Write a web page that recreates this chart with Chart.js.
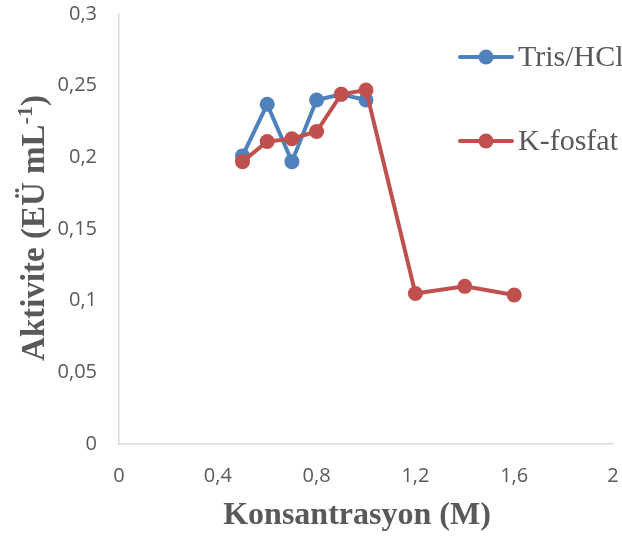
<!DOCTYPE html>
<html>
<head>
<meta charset="utf-8">
<script src="https://cdn.jsdelivr.net/npm/chart.js@4/dist/chart.umd.min.js"></script>
<style>
  html, body { margin: 0; padding: 0; background: #fff; }
  #wrap { width: 622px; height: 537px; }
</style>
</head>
<body>
<div id="wrap"><canvas id="chart" width="622" height="537"></canvas></div>
<script>
// data
const seriesNames = ['Tris/HCl', 'K-fosfat'];
const trisX = [0.5, 0.6, 0.7, 0.8, 0.9, 1.0];
const trisY = [0.201, 0.237, 0.197, 0.240, 0.244, 0.240];
const kX = [0.5, 0.6, 0.7, 0.8, 0.9, 1.0, 1.2, 1.4, 1.6];
const kY = [0.197, 0.211, 0.213, 0.218, 0.244, 0.247, 0.105, 0.110, 0.104];
const xTickLabels = ['0', '0,4', '0,8', '1,2', '1,6', '2'];
const yTickLabels = ['0', '0,05', '0,1', '0,15', '0,2', '0,25', '0,3'];

const blue = '#4F81BD';
const red = '#C0504D';
const grey = '#595959';

function pts(xs, ys) {
  return xs.map((x, i) => ({ x: x, y: ys[i] }));
}

// axis titles (y one has a superscript) and the legend drawn inside the plot
const extras = {
  id: 'extras',
  afterDatasetsDraw(chart) {
    const ctx = chart.ctx;
    ctx.save();
    ctx.fillStyle = grey;

    // x title
    ctx.font = 'bold 32px "Liberation Serif"';
    ctx.textAlign = 'center';
    ctx.textBaseline = 'alphabetic';
    ctx.fillText('Konsantrasyon (M)', 357, 524);

    // y title, rotated
    ctx.translate(44, 228);
    ctx.rotate(-Math.PI / 2);
    const main = 'Aktivite (EÜ mL';
    const sup = '-1';
    const end = ')';
    ctx.font = 'bold 33px "Liberation Serif"';
    const w1 = ctx.measureText(main).width;
    const w3 = ctx.measureText(end).width;
    ctx.font = 'bold 22px "Liberation Serif"';
    const w2 = ctx.measureText(sup).width;
    let x0 = -(w1 + w2 + w3) / 2;
    ctx.textAlign = 'left';
    ctx.font = 'bold 33px "Liberation Serif"';
    ctx.fillText(main, x0, 0);
    ctx.font = 'bold 22px "Liberation Serif"';
    ctx.fillText(sup, x0 + w1, -12);
    ctx.font = 'bold 33px "Liberation Serif"';
    ctx.fillText(end, x0 + w1 + w2, 0);
    ctx.restore();

    // legend
    ctx.save();
    const rows = [57, 141];
    chart.data.datasets.forEach((ds, i) => {
      const y = rows[i];
      ctx.strokeStyle = ds.borderColor;
      ctx.lineWidth = 4;
      ctx.lineCap = 'round';
      ctx.beginPath();
      ctx.moveTo(460, y);
      ctx.lineTo(512, y);
      ctx.stroke();
      ctx.fillStyle = ds.backgroundColor;
      ctx.beginPath();
      ctx.arc(486, y, 7.5, 0, Math.PI * 2);
      ctx.fill();
      ctx.fillStyle = grey;
      ctx.font = '30px "Liberation Serif"';
      ctx.textAlign = 'left';
      ctx.textBaseline = 'middle';
      ctx.fillText(ds.label, 518, y + 1);
    });
    ctx.restore();
  }
};

new Chart(document.getElementById('chart'), {
  type: 'scatter',
  data: {
    datasets: [
      {
        label: seriesNames[0],
        data: pts(trisX, trisY),
        showLine: true,
        borderColor: blue,
        backgroundColor: blue,
        borderWidth: 4,
        pointRadius: 7.5,
        pointBorderWidth: 0,
        order: 1
      },
      {
        label: seriesNames[1],
        data: pts(kX, kY),
        showLine: true,
        borderColor: red,
        backgroundColor: red,
        borderWidth: 4,
        pointRadius: 7.5,
        pointBorderWidth: 0,
        order: 0
      }
    ]
  },
  options: {
    responsive: false,
    animation: false,
    devicePixelRatio: 1,
    layout: { padding: { left: 0, right: 9, top: 14, bottom: 0 } },
    plugins: {
      legend: { display: false },
      tooltip: { enabled: false }
    },
    scales: {
      x: {
        type: 'linear',
        min: 0,
        max: 2,
        ticks: {
          stepSize: 0.4,
          padding: 20,
          color: grey,
          font: { family: 'Open Sans', size: 20 },
          callback: (v) => xTickLabels[Math.round(v / 0.4)]
        },
        grid: { display: false, drawTicks: false },
        border: { color: '#d9d9d9', width: 1.5 },
        afterFit: (axis) => {
          axis.height = 93;
          axis.paddingLeft = 0;
          axis.paddingRight = 0;
        }
      },
      y: {
        min: 0,
        max: 0.3,
        ticks: {
          stepSize: 0.05,
          padding: 22,
          color: grey,
          font: { family: 'Open Sans', size: 20 },
          callback: (v) => yTickLabels[Math.round(v / 0.05)]
        },
        grid: { display: false, drawTicks: false },
        border: { color: '#d9d9d9', width: 1.5 },
        afterFit: (axis) => {
          axis.width = 119;
          axis.paddingTop = 0;
          axis.paddingBottom = 0;
        }
      }
    }
  },
  plugins: [extras]
});
</script>
</body>
</html>
